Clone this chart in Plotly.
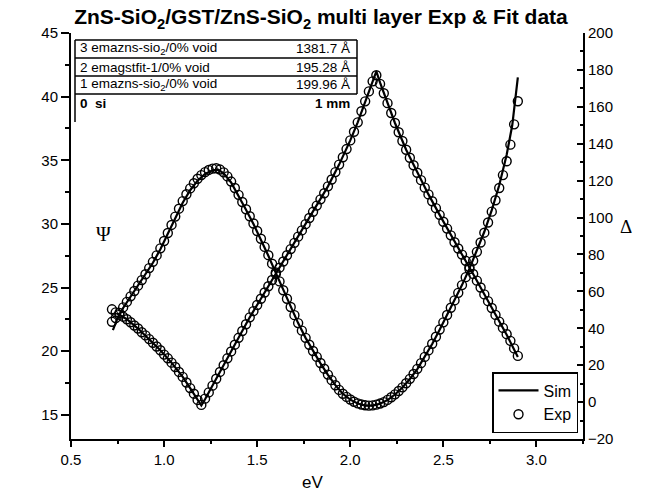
import plotly.graph_objects as go

# ---------------- data ----------------
exp_ev = [0.72,0.74,0.76,0.78,0.80,0.82,0.84,0.86,0.88,0.90,0.92,0.94,0.96,0.98,1.00,1.02,1.04,1.06,1.08,1.10,
          1.12,1.14,1.16,1.18,1.20,1.22,1.24,1.26,1.28,1.30,1.32,1.34,1.36,1.38,1.40,1.42,1.44,1.46,1.48,1.50,
          1.52,1.54,1.56,1.58,1.60,1.62,1.64,1.66,1.68,1.70,1.72,1.74,1.76,1.78,1.80,1.82,1.84,1.86,1.88,1.90,
          1.92,1.94,1.96,1.98,2.00,2.02,2.04,2.06,2.08,2.10,2.12,2.14,2.16,2.18,2.20,2.22,2.24,2.26,2.28,2.30,
          2.32,2.34,2.36,2.38,2.40,2.42,2.44,2.46,2.48,2.50,2.52,2.54,2.56,2.58,2.60,2.62,2.64,2.66,2.68,2.70,
          2.72,2.74,2.76,2.78,2.80,2.82,2.84,2.86,2.88,2.90]

psi_exp = [23.29,23.05,22.85,22.71,22.51,22.27,22.02,21.78,21.49,21.24,20.95,20.66,20.37,20.07,19.73,19.44,19.10,18.76,18.37,17.98,
           17.54,17.10,16.66,16.17,15.78,16.27,16.76,17.29,17.83,18.37,18.90,19.44,19.98,20.51,21.05,21.59,22.12,22.66,23.15,23.63,
           24.12,24.61,25.10,25.59,26.07,26.56,27.05,27.54,28.02,28.51,29.00,29.49,29.98,30.46,30.95,31.44,31.93,32.41,32.95,33.49,
           34.07,34.66,35.24,35.88,36.56,37.24,37.98,38.85,39.63,40.41,41.20,41.68,41.00,40.27,39.49,38.71,37.93,37.20,36.51,35.83,
           35.20,34.61,34.02,33.44,32.85,32.32,31.78,31.24,30.71,30.17,29.63,29.10,28.56,28.07,27.59,27.10,26.61,26.07,25.54,25.00,
           24.46,23.93,23.39,22.85,22.32,21.83,21.34,20.81,20.22,19.63]

delta_exp = [43.5,45.5,48.3,51.3,54.3,57.3,60.2,63.1,66.1,69.3,72.6,76.0,79.5,83.3,87.3,91.6,96.0,100.5,104.8,108.9,
             112.6,115.8,118.6,121.0,123.0,124.6,125.8,126.5,126.7,126.0,124.5,122.3,119.5,116.0,112.3,108.4,104.5,100.7,96.8,92.7,
             88.5,84.1,79.6,75.0,70.2,65.4,60.6,56.0,51.5,47.1,42.8,38.7,34.8,31.1,27.7,24.5,21.2,18.1,14.9,11.9,
             9.1,6.6,4.5,2.8,1.4,0.2,-0.7,-1.3,-1.7,-1.9,-1.8,-1.4,-0.8,0.0,1.2,2.6,4.2,6.0,8.0,10.2,
             12.6,15.2,18.0,21.1,24.5,28.0,31.6,35.4,39.3,43.2,47.2,51.1,55.1,59.2,63.4,67.7,72.1,76.6,81.4,86.5,
             91.8,97.3,103.2,109.4,116.0,123.0,130.5,139.5,150.5,163.0]

sim_psi_ev = [0.745,0.80,0.86,0.92,0.98,1.04,1.10,1.14,1.18,1.20,1.22,1.28,1.34,1.40,1.46,1.52,1.58,1.64,1.70,1.76,
              1.82,1.88,1.94,2.00,2.04,2.08,2.12,2.14,2.16,2.20,2.24,2.30,2.36,2.42,2.48,2.54,2.60,2.66,2.72,2.78,
              2.84,2.90]
sim_psi = [23.00,22.51,21.78,20.95,20.07,19.10,17.98,17.10,16.17,15.73,16.22,17.83,19.44,21.05,22.66,24.12,25.59,27.05,28.51,29.98,
           31.44,32.95,34.66,36.56,37.98,39.63,41.20,41.98,41.10,39.49,37.93,35.83,34.02,32.32,30.71,29.10,27.59,26.07,24.46,22.85,
           21.29,19.54]

sim_delta_ev = [0.725,0.75,0.78,0.82,0.86,0.90,0.94,0.98,1.02,1.06,1.10,1.14,1.18,1.22,1.26,1.29,1.32,1.36,1.40,1.44,
                1.48,1.52,1.56,1.60,1.64,1.68,1.72,1.76,1.80,1.84,1.88,1.92,1.96,2.00,2.04,2.08,2.12,2.16,2.20,2.24,
                2.28,2.32,2.36,2.40,2.44,2.48,2.52,2.56,2.60,2.64,2.68,2.72,2.76,2.80,2.84,2.87,2.90]
sim_delta = [39.0,45.5,51.0,57.0,62.8,68.8,75.5,82.8,91.0,99.8,108.0,114.8,120.0,123.6,125.6,125.9,124.0,119.0,112.0,104.2,
             96.5,88.3,79.3,70.0,60.6,51.5,42.8,34.8,27.7,21.0,14.8,9.2,4.5,1.3,-0.8,-1.9,-1.9,-0.9,1.1,4.1,
             7.9,12.5,17.9,24.4,31.5,39.2,47.0,55.0,63.4,72.3,81.8,92.3,104.0,117.5,134.0,150.0,176.0]

x_ticks = [0.5, 1.0, 1.5, 2.0, 2.5, 3.0]
psi_ticks = [15, 20, 25, 30, 35, 40, 45]
delta_ticks = [-20, 0, 20, 40, 60, 80, 100, 120, 140, 160, 180, 200]

layer_names = ["3 emazns-sio<sub>2</sub>/0% void", "2 emagstfit-1/0% void", "1 emazns-sio<sub>2</sub>/0% void", "<b>0  si</b>"]
layer_thick = ["1381.7 Å", "195.28 Å", "199.96 Å", "<b>1 mm</b>"]

title_text = "<b>ZnS-SiO<sub>2</sub>/GST/ZnS-SiO<sub>2</sub> multi layer Exp &amp; Fit data</b>"

# ---------------- layout geometry ----------------
W, H = 656, 504
ML, MR, MT, MB = 71, 73, 33, 65
PW, PH = W - ML - MR, H - MT - MB
FONT = "Liberation Sans, Arial, sans-serif"


def px(x):
    return (x - ML) / PW


def py(y):
    return (H - MB - y) / PH


fig = go.Figure()

line_style = dict(color="black", width=2.2)
mark_style = dict(symbol="circle-open", size=9, color="black", line=dict(width=1.4, color="black"))

fig.add_trace(go.Scatter(x=sim_psi_ev, y=sim_psi, mode="lines", line=line_style, name="Sim", showlegend=True))
fig.add_trace(go.Scatter(x=sim_delta_ev, y=sim_delta, mode="lines", line=line_style, name="Sim",
                         showlegend=False, yaxis="y2"))
fig.add_trace(go.Scatter(x=exp_ev, y=psi_exp, mode="markers", marker=mark_style, name="Exp", showlegend=True))
fig.add_trace(go.Scatter(x=exp_ev, y=delta_exp, mode="markers", marker=mark_style, name="Exp",
                         showlegend=False, yaxis="y2"))

axis_common = dict(showline=True, linecolor="black", linewidth=2, showgrid=False, zeroline=False,
                   tickcolor="black", tickwidth=1.5, tickfont=dict(family=FONT, size=15, color="black"))

fig.update_layout(
    width=W, height=H,
    margin=dict(l=ML, r=MR, t=MT, b=MB, pad=0),
    paper_bgcolor="white", plot_bgcolor="white",
    title=dict(text=title_text, x=321 / W, xanchor="center", y=1 - 17 / H, yanchor="middle",
               xref="container", yref="container",
               font=dict(family=FONT, size=21, color="black")),
    xaxis=dict(range=[0.5, 3.25], tickvals=x_ticks, ticktext=[f"{v:.1f}" for v in x_ticks],
               ticks="outside", ticklen=6,
               minor=dict(dtick=0.25, tick0=0.5, ticks="outside", ticklen=3, tickcolor="black"),
               **axis_common),
    yaxis=dict(range=[13.1, 45], tickvals=psi_ticks, ticks="outside", ticklen=8,
               minor=dict(dtick=2.5, tick0=0, ticks="outside", ticklen=4, tickcolor="black"),
               **axis_common),
    yaxis2=dict(range=[-20, 200], tickvals=delta_ticks, ticks="inside", ticklen=6, overlaying="y",
                side="right", anchor="x",
                minor=dict(dtick=10, tick0=0, ticks="inside", ticklen=3, tickcolor="black"),
                **axis_common),
    legend=dict(x=px(578), y=py(433), xanchor="right", yanchor="bottom",
                bordercolor="black", borderwidth=1.5, bgcolor="white",
                font=dict(family=FONT, size=16, color="black"), tracegroupgap=0,
                itemwidth=40),
    showlegend=True,
)

# axis titles
fig.add_annotation(text="Ψ", x=30 / W, y=py(234), xref="paper", yref="paper", showarrow=False,
                   font=dict(family="Liberation Serif, Times New Roman, serif", size=20, color="black"))
fig.add_annotation(text="Δ", x=px(634), y=py(226), xref="paper", yref="paper", showarrow=False,
                   font=dict(family="Liberation Serif, Times New Roman, serif", size=19, color="black"))
fig.add_annotation(text="eV", x=px(312), y=py(494), xref="paper", yref="paper", showarrow=False,
                   font=dict(family=FONT, size=17, color="black"))

# layer table
tx0, tx1 = 75, 357
row_h = 18
row_top = [40, 58, 76, 94]
for i, (nm, th) in enumerate(zip(layer_names, layer_thick)):
    yc = row_top[i] + row_h / 2
    fig.add_annotation(text=nm, x=px(tx0 + 3), y=py(yc), xref="paper", yref="paper", showarrow=False,
                       xanchor="left", yanchor="middle", font=dict(family=FONT, size=13.5, color="black"))
    fig.add_annotation(text=th, x=px(tx1 - 5), y=py(yc), xref="paper", yref="paper", showarrow=False,
                       xanchor="right", yanchor="middle", font=dict(family=FONT, size=13.5, color="black"))
for yline in row_top:
    fig.add_shape(type="line", x0=px(tx0), x1=px(tx1), y0=py(yline), y1=py(yline),
                  xref="paper", yref="paper", line=dict(color="black", width=1.5))
fig.add_shape(type="line", x0=px(tx0), x1=px(tx0), y0=py(40), y1=py(122),
              xref="paper", yref="paper", line=dict(color="black", width=1.5))
fig.add_shape(type="line", x0=px(tx1), x1=px(tx1), y0=py(40), y1=py(94),
              xref="paper", yref="paper", line=dict(color="black", width=1.5))

fig.write_html("out.html")
